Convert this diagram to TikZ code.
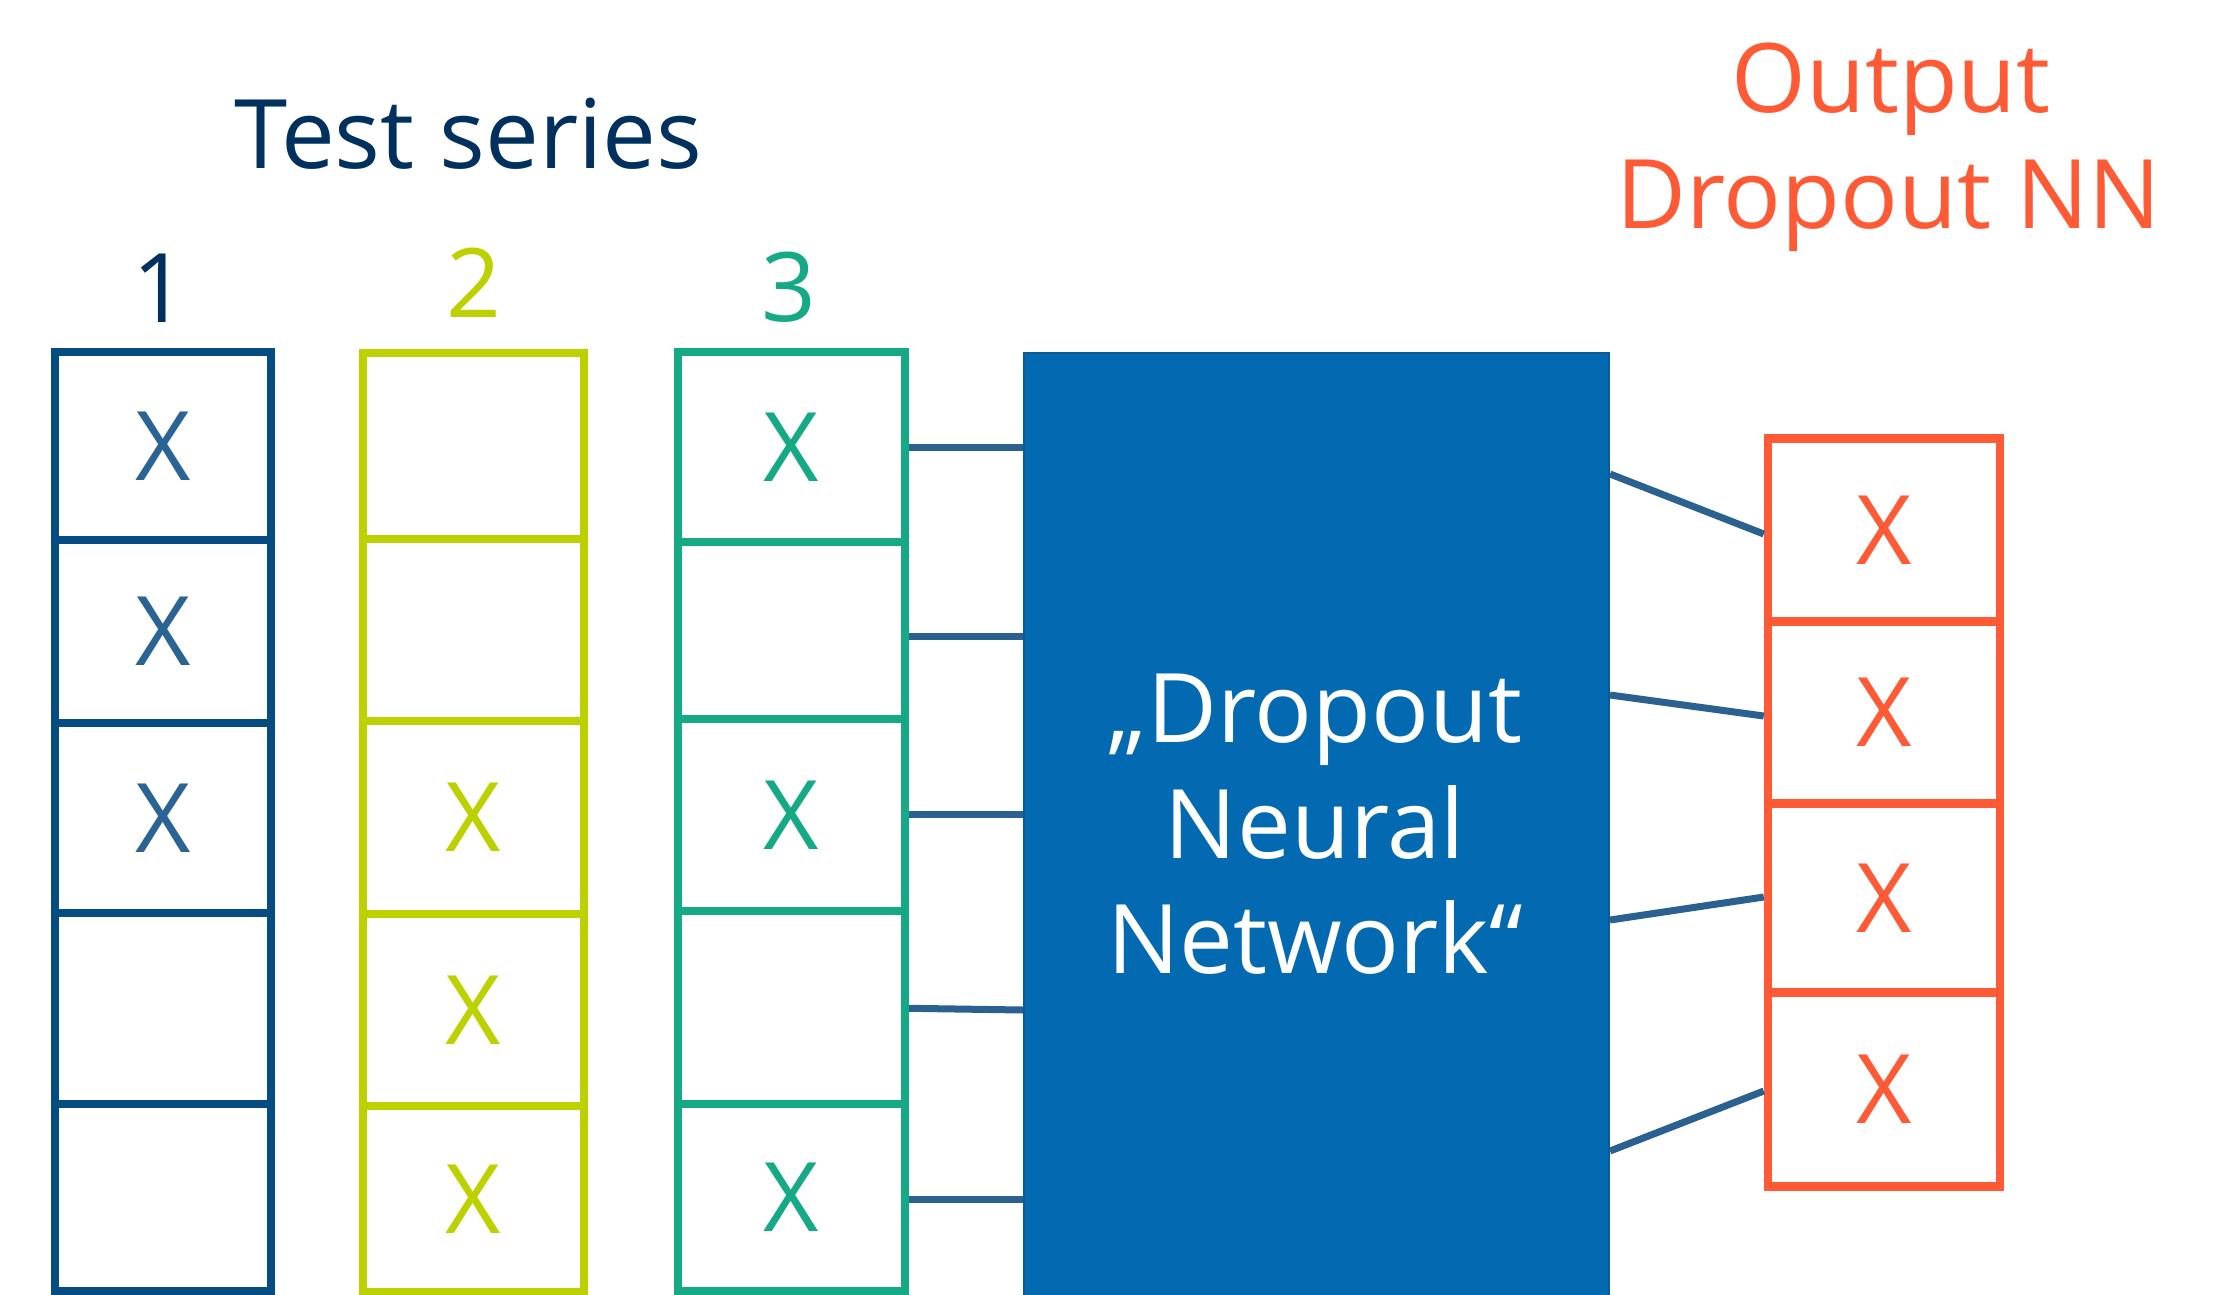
\documentclass[tikz,border=0pt]{standalone}
\usepackage{fontspec}
\setmainfont{Open Sans}
\definecolor{navy}{HTML}{00305E}
\definecolor{c1border}{HTML}{044C81}
\definecolor{c1x}{HTML}{2A6494}
\definecolor{limec}{HTML}{BDD100}
\definecolor{greenc}{HTML}{16A985}
\definecolor{nnfill}{HTML}{036AB2}
\definecolor{nnborder}{HTML}{0A5A94}
\definecolor{orangec}{HTML}{FF5A36}
\definecolor{linkc}{HTML}{2A6190}
\tikzset{
  bigtext/.style={font=\fontsize{96}{115}\selectfont, inner sep=0pt},
  col1cell/.style={draw=c1border, line width=8pt, rectangle, inner sep=0pt, minimum width=215.5pt, text=c1x, bigtext},
  col2cell/.style={draw=limec, line width=8pt, rectangle, inner sep=0pt, minimum width=221pt, text=limec, bigtext},
  col3cell/.style={draw=greenc, line width=8pt, rectangle, inner sep=0pt, minimum width=227pt, text=greenc, bigtext},
  outcell/.style={draw=orangec, line width=8.5pt, rectangle, inner sep=0pt, minimum width=232pt, text=orangec, bigtext},
  link/.style={draw=linkc, line width=7pt},
}
\begin{document}
\begin{tikzpicture}[x=1pt,y=-1pt]
\useasboundingbox (0,0) rectangle (2232,1294);
\clip (0,0) rectangle (2232,1294);
% titles
\node[bigtext, text=navy, anchor=base] (title) at (468.5,168) {Test series};
\node[bigtext, text=navy, anchor=base] (n1) at (160,322) {1};
\node[bigtext, text=limec, anchor=base] (n2) at (473.5,317) {2};
\node[bigtext, text=greenc, anchor=base] (n3) at (789,321) {3};
\node[bigtext, text=orangec, align=center, anchor=base] (out1) at (1891,112) {Output};
\node[bigtext, text=orangec, align=center, anchor=base] (out2) at (1889,228) {Dropout NN};
% column 1
\node[col1cell, minimum height=188pt] (c11) at (162.75,446) {X};
\node[col1cell, minimum height=183pt] (c12) at (162.75,631.5) {X};
\node[col1cell, minimum height=189.5pt] (c13) at (162.75,817.75) {X};
\node[col1cell, minimum height=191.5pt] (c14) at (162.75,1008.25) {};
\node[col1cell, minimum height=187pt] (c15) at (162.75,1197.5) {};
% column 2
\node[col2cell, minimum height=186pt] (c21) at (473.5,445.5) {};
\node[col2cell, minimum height=182pt] (c22) at (473.5,629.5) {};
\node[col2cell, minimum height=193.3pt] (c23) at (473.5,817.15) {X};
\node[col2cell, minimum height=192.2pt] (c24) at (473.5,1009.9) {X};
\node[col2cell, minimum height=186pt] (c25) at (473.5,1199) {X};
% column 3
\node[col3cell, minimum height=189.6pt] (c31) at (791.5,446.8) {X};
\node[col3cell, minimum height=177.4pt] (c32) at (791.5,630.3) {};
\node[col3cell, minimum height=192.3pt] (c33) at (791.5,815.15) {X};
\node[col3cell, minimum height=192.7pt] (c34) at (791.5,1007.65) {};
\node[col3cell, minimum height=187pt] (c35) at (791.5,1197.5) {X};
% neural network box
\node[draw=nnborder, fill=nnfill, line width=2pt, rectangle, inner sep=0pt,
      minimum width=585pt, minimum height=1000pt, anchor=north west] (nn) at (1023,352) {};
\node[bigtext, text=white, anchor=base] (nnt1) at (1315,742) {„Dropout};
\node[bigtext, text=white, anchor=base] (nnt2) at (1315,858) {Neural};
\node[bigtext, text=white, anchor=base] (nnt3) at (1315,973) {Network“};
% output column
\node[outcell, minimum height=183pt] (o1) at (1884,530) {X};
\node[outcell, minimum height=182pt] (o2) at (1884,712.5) {X};
\node[outcell, minimum height=189pt] (o3) at (1884,898) {X};
\node[outcell, minimum height=194pt] (o4) at (1884,1089.5) {X};
% connectors column 3 -> NN
\draw[link] (c31.east |- 0,447.7) -- (nn.west |- 0,447.7);
\draw[link] (c32.east |- 0,636.7) -- (nn.west |- 0,636.7);
\draw[link] (c33.east |- 0,814) -- (nn.west |- 0,814);
\draw[link] (c34.east |- 0,1008.3) -- (nn.west |- 0,1010);
\draw[link] (c35.east |- 0,1199) -- (nn.west |- 0,1199);
% connectors NN -> output
\draw[link] (nn.east |- 0,474) -- (o1.west |- 0,534);
\draw[link] (nn.east |- 0,695) -- (o2.west |- 0,716);
\draw[link] (nn.east |- 0,920) -- (o3.west |- 0,897);
\draw[link] (nn.east |- 0,1151) -- (o4.west |- 0,1091);
\end{tikzpicture}
\end{document}
